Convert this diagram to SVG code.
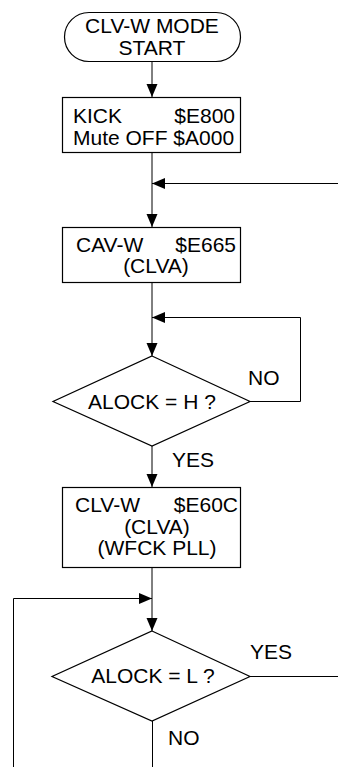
<svg xmlns="http://www.w3.org/2000/svg" width="338" height="767" viewBox="0 0 338 767">
<style>
.s{fill:#fff;stroke:#000;stroke-width:1.2}
.c{fill:none;stroke:#000;stroke-width:1}
text{font-family:"Liberation Sans",Arial,sans-serif;font-size:21px;fill:#000}
.m{text-anchor:middle}
.e{text-anchor:end}
</style>
<defs>
<marker id="ah" markerUnits="userSpaceOnUse" markerWidth="14" markerHeight="12" refX="13" refY="5.5" orient="auto">
<path d="M0,0 L13,5.5 L0,11 Z" fill="#000"/>
</marker>
</defs>
<g id="connectors">
<line class="c" x1="152" y1="62" x2="152" y2="97" marker-end="url(#ah)"/>
<line class="c" x1="152" y1="153" x2="152" y2="227" marker-end="url(#ah)"/>
<line class="c" x1="338" y1="183.5" x2="152" y2="183.5" marker-end="url(#ah)"/>
<line class="c" x1="152" y1="283" x2="152" y2="356" marker-end="url(#ah)"/>
<polyline class="c" points="250,401.5 300.5,401.5 300.5,317.5 152,317.5" marker-end="url(#ah)"/>
<line class="c" x1="152" y1="446" x2="152" y2="487" marker-end="url(#ah)"/>
<line class="c" x1="152" y1="568" x2="152" y2="631" marker-end="url(#ah)"/>
<polyline class="c" points="13.5,767 13.5,598.5 152,598.5" marker-end="url(#ah)"/>
<line class="c" x1="250" y1="676.5" x2="338" y2="676.5"/>
<line class="c" x1="152.5" y1="721" x2="152.5" y2="767"/>
<text x="248" y="385">NO</text>
<text x="172" y="467">YES</text>
<text x="250" y="659">YES</text>
<text x="168" y="745">NO</text>
</g>
<g id="start">
<rect class="s" x="64.5" y="12.5" width="176" height="49" rx="24.5"/>
<text class="m" x="152" y="33">CLV-W MODE</text>
<text class="m" x="152" y="55">START</text>
</g>
<g id="kick">
<rect class="s" x="62.5" y="97.5" width="178" height="55"/>
<text x="73" y="123">KICK</text>
<text class="e" x="235" y="123">$E800</text>
<text x="73" y="145">Mute OFF $A000</text>
</g>
<g id="cavw">
<rect class="s" x="62.5" y="227.5" width="178" height="55"/>
<text x="76" y="252">CAV-W</text>
<text class="e" x="236" y="252">$E665</text>
<text class="m" x="156" y="273">(CLVA)</text>
</g>
<g id="alock-h">
<polygon class="s" points="152,356 250,401.5 152,446 53,401.5"/>
<text class="m" x="152" y="409">ALOCK = H ?</text>
</g>
<g id="clvw">
<rect class="s" x="62.5" y="487.5" width="178" height="80"/>
<text x="75" y="512">CLV-W</text>
<text class="e" x="238" y="512">$E60C</text>
<text class="m" x="157" y="534">(CLVA)</text>
<text class="m" x="157" y="555">(WFCK PLL)</text>
</g>
<g id="alock-l">
<polygon class="s" points="152,631 250,676.5 152,721 52,676.5"/>
<text class="m" x="153" y="683">ALOCK = L ?</text>
</g>
</svg>
